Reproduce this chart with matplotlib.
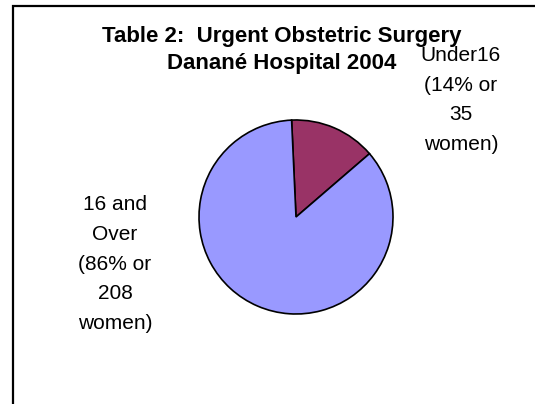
import matplotlib
matplotlib.use("Agg")
import matplotlib.pyplot as plt
from matplotlib.patches import Rectangle

plt.rcParams['font.family'] = ['Liberation Sans', 'DejaVu Sans']

groups = ["Under16", "16 and Over"]
women = [35, 208]
colors = ["#993366", "#9999FF"]
labels = ["Under16\n(14% or\n35\nwomen)", "16 and\nOver\n(86% or\n208\nwomen)"]
title = "Table 2:  Urgent Obstetric Surgery\nDanané Hospital 2004"

W, H = 535, 404
fig = plt.figure(figsize=(W / 100, H / 100), dpi=100)
ax = fig.add_axes([0, 0, 1, 1])

# pixel layout (y measured from the top of the picture)
cx, cy, r = 296, 217, 97

ax.pie(women, colors=colors, startangle=92.6, counterclock=False,
       center=(cx, H - cy), radius=r, frame=True,
       wedgeprops=dict(edgecolor='black', linewidth=1.2))
ax.set_xlim(0, W)
ax.set_ylim(0, H)
ax.set_aspect('equal')
ax.axis('off')

# chart area border (right and bottom edges fall outside the picture)
ax.add_patch(Rectangle((12.5, -20), 700, H - 5.5 + 20, fill=False,
                       edgecolor='black', linewidth=1.6, clip_on=False))

ax.text(282, H - 50, title, ha='center', va='center', fontsize=16,
        fontweight='bold', linespacing=1.4)

ax.text(461, H - 100, labels[0], ha='center', va='center', fontsize=15,
        linespacing=1.72)
ax.text(115, H - 264, labels[1], ha='center', va='center', fontsize=15,
        linespacing=1.72)

fig.savefig("out.png", dpi=100)
